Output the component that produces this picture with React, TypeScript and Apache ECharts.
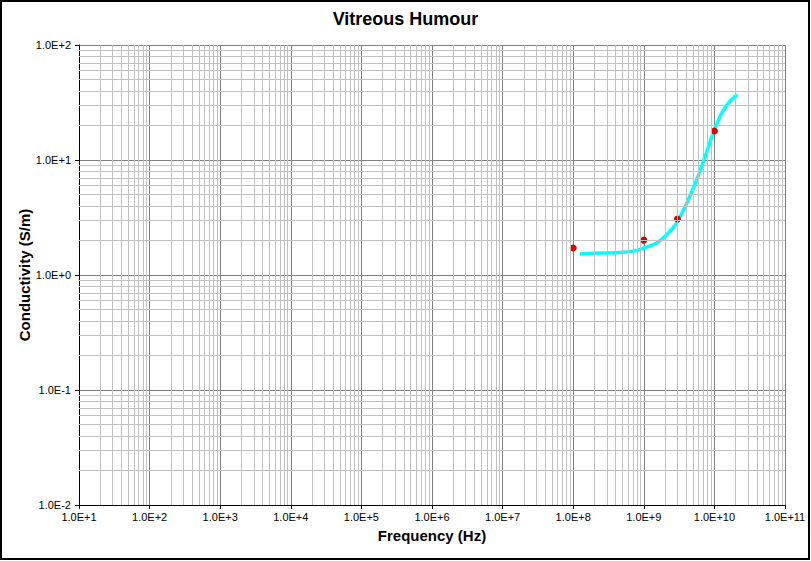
import React, { useEffect, useRef } from "react";
import * as echarts from "echarts";

// measured points (red dots)
const measuredFreq = [1e8, 1e9, 3e9, 1e10];
const measuredCond = [1.72, 2.01, 3.07, 17.9];

// fitted model curve (cyan)
const modelFreq = [1.25e8, 2.4e8, 4.6e8, 7.9e8, 1.0e9, 1.5e9, 2.1e9, 2.9e9, 4.05e9, 5.6e9, 7.4e9, 9.6e9, 1.27e10, 1.57e10, 2.1e10];
const modelCond = [1.52, 1.55, 1.57, 1.63, 1.71, 1.89, 2.23, 2.82, 4.2, 6.7, 10.7, 17.1, 25.5, 31.1, 37];

// axis decades (exponents) and minor grid multipliers
const xDecades = [1, 2, 3, 4, 5, 6, 7, 8, 9, 10];
const yDecades = [-2, -1, 0, 1];
const minorSteps = [2, 3, 4, 5, 6, 7, 8, 9];

const FONT = "'Liberation Sans', Arial, sans-serif";

const sciLabel = (v: number) => {
  const e = Math.round(Math.log10(v));
  return `1.0E${e >= 0 ? "+" : ""}${e}`;
};

const minorValues = (decades: number[]) =>
  decades.flatMap((d) => minorSteps.map((m) => m * Math.pow(10, d)));

const App: React.FC = () => {
  const chartRef = useRef<HTMLDivElement>(null);

  useEffect(() => {
    document.body.style.margin = "0";
    if (!chartRef.current) return;
    const chart = echarts.init(chartRef.current, undefined, { renderer: "svg" });

    const option: echarts.EChartsOption = {
      animation: false,
      backgroundColor: "#ffffff",
      title: {
        text: "Vitreous Humour",
        left: "center",
        top: 5,
        textStyle: { fontFamily: FONT, fontSize: 18, fontWeight: "bold", color: "#000" },
      },
      graphic: [
        {
          type: "rect",
          shape: { x: 1, y: 1, width: 808, height: 558 },
          style: { fill: "none", stroke: "#000", lineWidth: 2 },
          silent: true,
        },
      ],
      grid: { left: 79, top: 45, right: 26, bottom: 56 },
      xAxis: {
        type: "log",
        logBase: 10,
        min: 10,
        max: 1e11,
        interval: 1,
        splitNumber: 10,
        name: "Frequency (Hz)",
        nameLocation: "middle",
        nameGap: 23,
        nameMoveOverlap: false,
        nameTextStyle: { fontFamily: FONT, fontSize: 15, fontWeight: "bold", color: "#000" },
        axisLine: { lineStyle: { color: "#000", width: 1 } },
        axisTick: { show: true, length: 4, lineStyle: { color: "#000" } },
        axisLabel: { fontFamily: FONT, fontSize: 11, color: "#000", margin: 6, formatter: sciLabel },
        splitLine: { show: true, lineStyle: { color: "#808080", width: 1 } },
      },
      yAxis: {
        type: "log",
        logBase: 10,
        min: 0.01,
        max: 100,
        interval: 1,
        splitNumber: 4,
        name: "Conductivity (S/m)",
        nameLocation: "middle",
        nameGap: 47,
        nameMoveOverlap: false,
        nameTextStyle: { fontFamily: FONT, fontSize: 15, fontWeight: "bold", color: "#000" },
        axisLine: { show: true, lineStyle: { color: "#000", width: 1 } },
        axisTick: { show: true, length: 4, lineStyle: { color: "#000" } },
        axisLabel: { fontFamily: FONT, fontSize: 11, color: "#000", margin: 8, formatter: sciLabel },
        splitLine: { show: true, lineStyle: { color: "#808080", width: 1 } },
      },
      series: [
        {
          name: "minor-grid",
          type: "line",
          data: [],
          z: 1,
          silent: true,
          markLine: {
            silent: true,
            symbol: "none",
            animation: false,
            label: { show: false },
            lineStyle: { color: "#c0c0c0", type: "solid", width: 1 },
            data: [
              ...minorValues(xDecades).map((v) => ({ xAxis: v })),
              ...minorValues(yDecades).map((v) => ({ yAxis: v })),
            ],
          },
        },
        {
          name: "model",
          type: "line",
          z: 2,
          smooth: 0.2,
          showSymbol: false,
          lineStyle: { color: "#00ffff", width: 3.5 },
          data: modelFreq.map((f, i) => [f, modelCond[i]]),
        },
        {
          name: "measured",
          type: "scatter",
          z: 3,
          symbolSize: 7,
          itemStyle: { color: "#e00000", opacity: 1 },
          data: measuredFreq.map((f, i) => [f, measuredCond[i]]),
        },
      ],
    };

    chart.setOption(option);
    return () => {
      chart.dispose();
    };
  }, []);

  return <div ref={chartRef} style={{ width: "811px", height: "561px" }} />;
};

export default App;
